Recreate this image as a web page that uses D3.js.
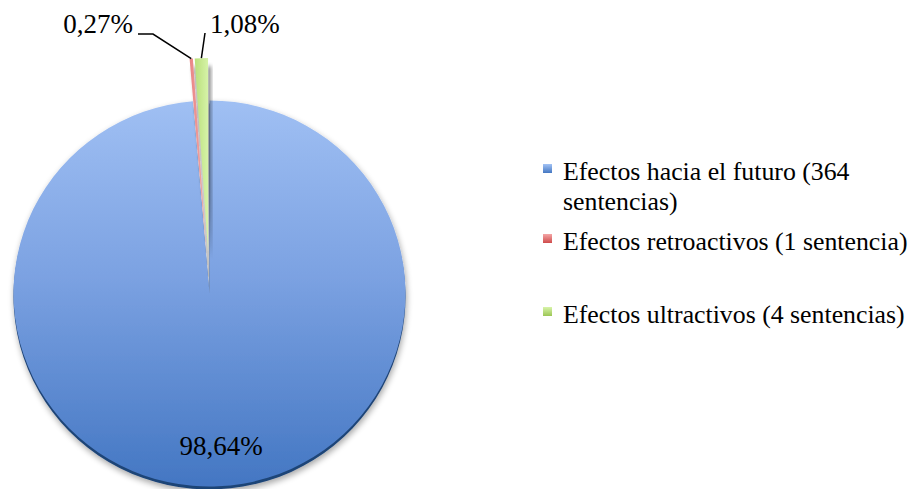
<!DOCTYPE html>
<html>
<head>
<meta charset="utf-8">
<script src="https://cdn.jsdelivr.net/npm/d3@7/dist/d3.min.js"></script>
<style>
  html, body { margin: 0; padding: 0; background: #ffffff; }
  svg { display: block; }
</style>
</head>
<body>
<script>
// Sentencias por tipo de efecto
const categories = ["Efectos hacia el futuro", "Efectos retroactivos", "Efectos ultractivos"];
const counts = [364, 1, 4];
const legendLines = [
  ["Efectos hacia el futuro (364", "sentencias)"],
  ["Efectos retroactivos (1 sentencia)"],
  ["Efectos ultractivos (4 sentencias)"]
];
const colorsTop = ["#a3c3f5", "#f4a6a6", "#d8f4aa"];
const colorsBottom = ["#4477c2", "#cf4b4b", "#9cc655"];

const W = 918, H = 489;
const cx = 209.5, cy = 293.5, rx = 196, ry = 193;
const explode = 42.5;

const svg = d3.select("body").append("svg").attr("width", W).attr("height", H);
const defs = svg.append("defs");

categories.forEach((c, i) => {
  const g = defs.append("linearGradient").attr("id", "grad" + i)
    .attr("x1", 0).attr("y1", 0).attr("x2", 0).attr("y2", 1);
  g.append("stop").attr("offset", "0%").attr("stop-color", colorsTop[i]);
  g.append("stop").attr("offset", "100%").attr("stop-color", colorsBottom[i]);
});
// shading of the small exploded slices
const sg = defs.append("linearGradient").attr("id", "gradSmall2")
  .attr("x1", 0).attr("y1", 0).attr("x2", 1).attr("y2", 0);
sg.append("stop").attr("offset", "0%").attr("stop-color", "#b9df7a");
sg.append("stop").attr("offset", "100%").attr("stop-color", "#d6f3a8");
const rg = defs.append("linearGradient").attr("id", "gradSmall1")
  .attr("x1", 0).attr("y1", 0).attr("x2", 1).attr("y2", 0);
rg.append("stop").attr("offset", "0%").attr("stop-color", "#e98585");
rg.append("stop").attr("offset", "100%").attr("stop-color", "#f3a9a9");

// main slice shading
const mg = defs.append("linearGradient").attr("id", "gradMain")
  .attr("gradientUnits", "userSpaceOnUse")
  .attr("x1", 0).attr("y1", -ry).attr("x2", 0).attr("y2", ry);
mg.append("stop").attr("offset", "0%").attr("stop-color", "#9fbff3");
mg.append("stop").attr("offset", "45%").attr("stop-color", "#7ca2e2");
mg.append("stop").attr("offset", "100%").attr("stop-color", "#4477c3");

function makeShadow(id, dx, dy, blur, slope) {
  const f = defs.append("filter").attr("id", id)
    .attr("x", "-30%").attr("y", "-10%").attr("width", "160%").attr("height", "125%");
  f.append("feGaussianBlur").attr("in", "SourceAlpha").attr("stdDeviation", blur).attr("result", "b");
  f.append("feOffset").attr("in", "b").attr("dx", dx).attr("dy", dy).attr("result", "o");
  f.append("feComponentTransfer").attr("in", "o").attr("result", "s")
    .append("feFuncA").attr("type", "linear").attr("slope", slope);
  const m = f.append("feMerge");
  m.append("feMergeNode").attr("in", "s");
  m.append("feMergeNode").attr("in", "SourceGraphic");
}
makeShadow("shadow", 1, 3, 3, 0.35);
makeShadow("shadowSmall", 3, 8, 2, 0.45);

const pie = d3.pie().sort(null).value(d => d).startAngle(0).endAngle(2 * Math.PI);
const arcs = pie(counts);
const arc = d3.arc().innerRadius(0).outerRadius(rx);
const sy = ry / rx;

function offsetOf(d, i) {
  if (i === 0) return [0, 0];
  const a = (d.startAngle + d.endAngle) / 2;
  return [Math.sin(a) * explode, -Math.cos(a) * explode];
}

const pieG = svg.append("g");

arcs.forEach((d, i) => {
  const [dx, dy] = offsetOf(d, i);
  const g = pieG.append("g")
    .attr("transform", `translate(${cx + dx},${cy + dy}) scale(1,${sy})`)
    .attr("filter", i === 0 ? "url(#shadow)" : "url(#shadowSmall)");
  if (i === 0) {
    // dark rim along the lower edge
    g.append("path").attr("d", arc(d)).attr("transform", "translate(0,3)")
      .attr("fill", "#1f4477");
  }
  g.append("path").attr("d", arc(d))
    .attr("fill", i === 0 ? "url(#gradMain)" : `url(#gradSmall${i})`);
});

// percentage labels
const fmt = v => d3.format(".2f")(v).replace(".", ",") + "%";
const total = d3.sum(counts);
const labelFont = "'Liberation Serif', 'Times New Roman', serif";

function outerPoint(d, i) {
  const [dx, dy] = offsetOf(d, i);
  const a = (d.startAngle + d.endAngle) / 2;
  return [cx + dx + Math.sin(a) * rx, cy + dy - Math.cos(a) * ry];
}

// main slice label
svg.append("text").attr("x", 221).attr("y", 455).attr("text-anchor", "middle")
  .attr("font-family", labelFont).attr("font-size", 27).attr("fill", "#000")
  .text(fmt(counts[0] / total * 100));

// retroactive label with elbow leader
{
  const p = outerPoint(arcs[1], 1);
  svg.append("text").attr("x", 133).attr("y", 33).attr("text-anchor", "end")
    .attr("font-family", labelFont).attr("font-size", 27).attr("fill", "#000")
    .text(fmt(counts[1] / total * 100));
  svg.append("path").attr("d", `M138,34 L153,34 L${p[0]},${p[1]}`)
    .attr("fill", "none").attr("stroke", "#000").attr("stroke-width", 1.5);
}
// ultractive label
{
  const p = outerPoint(arcs[2], 2);
  svg.append("text").attr("x", 210).attr("y", 33).attr("text-anchor", "start")
    .attr("font-family", labelFont).attr("font-size", 27).attr("fill", "#000")
    .text(fmt(counts[2] / total * 100));
  svg.append("path").attr("d", `M205,33 L${p[0]},${p[1]}`)
    .attr("fill", "none").attr("stroke", "#000").attr("stroke-width", 1.5);
}

// legend
const legendBaselines = [180, 250, 323];
const legend = svg.append("g");
legendLines.forEach((lines, i) => {
  const y0 = legendBaselines[i];
  legend.append("rect").attr("x", 543).attr("y", y0 - 16).attr("width", 9).attr("height", 9)
    .attr("fill", `url(#grad${i})`);
  const t = legend.append("text").attr("x", 563).attr("y", y0)
    .attr("font-family", "'Liberation Serif', 'Times New Roman', serif")
    .attr("font-size", 25.8).attr("fill", "#000");
  lines.forEach((ln, j) => {
    t.append("tspan").attr("x", 563).attr("y", y0 + j * 30).text(ln);
  });
});
</script>
</body>
</html>
